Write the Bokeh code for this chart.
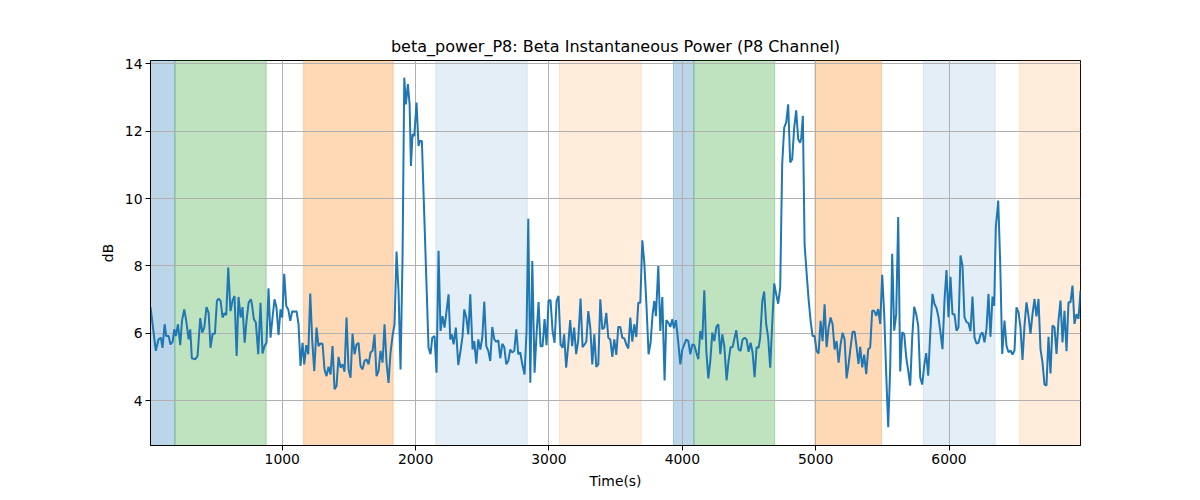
from bokeh.plotting import figure
from bokeh.models import FixedTicker, Range1d, BoxAnnotation, ColumnDataSource
from bokeh.embed import file_html
from bokeh.resources import INLINE

# ---- data ----
time_s = [
    12, 52, 72, 90, 102, 118, 130, 148, 162, 178, 190, 202, 218, 235, 248, 265, 280, 298, 310, 322,
    348, 365, 385, 400, 415, 432, 448, 462, 478, 495, 510, 522, 538, 552, 568, 580, 595, 612, 628, 642,
    658, 672, 688, 702, 718, 732, 748, 765,
    772, 787, 802, 820, 837, 852, 867, 882, 897, 912, 927, 942, 957, 972, 987, 1000, 1015, 1030, 1045, 1060,
    1075, 1090, 1107, 1122, 1137, 1152, 1165, 1180, 1195, 1210, 1225, 1240, 1257, 1272, 1287, 1302, 1317, 1332,
    1347, 1362, 1377, 1392, 1407, 1422, 1437, 1452, 1467, 1482, 1497, 1512,
    1527, 1542, 1557, 1572, 1587, 1602, 1617, 1632, 1647, 1662, 1677, 1692, 1707, 1722, 1737, 1752, 1767, 1782,
    1797, 1812, 1827, 1842, 1857, 1872, 1887, 1902, 1915, 1927, 1942, 1955, 1965, 1977, 1990, 2007, 2022, 2032,
    2047, 2097, 2112, 2125, 2142, 2157, 2172, 2187, 2202, 2217, 2232, 2247,
    2260, 2272, 2285, 2302, 2320, 2337, 2352, 2365, 2380, 2395, 2410, 2427, 2440, 2455, 2470, 2485, 2500, 2515,
    2530, 2545, 2560, 2575, 2590, 2605, 2620, 2635, 2650, 2665, 2680, 2695, 2710, 2725, 2740, 2755, 2770, 2785,
    2800, 2817, 2832, 2845, 2860, 2875, 2892, 2907, 2922, 2937, 2952, 2967, 2982, 2997, 3012,
    3027, 3042, 3057, 3072, 3087, 3102, 3114, 3129, 3144, 3159, 3174, 3189, 3204, 3219, 3237, 3252, 3267, 3280,
    3295, 3310, 3325, 3340, 3355, 3370, 3385, 3400, 3415, 3430, 3445, 3460, 3475, 3490, 3505, 3520, 3535, 3550,
    3565, 3580, 3595, 3610, 3625, 3640, 3655, 3670, 3685, 3700, 3715, 3732, 3747, 3762, 3777,
    3790, 3802, 3820, 3835, 3850, 3867, 3880, 3895, 3910, 3925, 3937, 3952, 3970, 3985, 4000, 4015, 4030, 4045,
    4060, 4075, 4090, 4105, 4120, 4135, 4150, 4165, 4180, 4195, 4210, 4225, 4240, 4255, 4270, 4285, 4300, 4315,
    4332, 4347, 4362, 4377, 4392, 4405, 4422, 4437, 4452, 4467, 4482, 4497, 4512, 4527,
    4542, 4557, 4572, 4584, 4600, 4614, 4629, 4644, 4659, 4674, 4689, 4704, 4719, 4734, 4749, 4764, 4779, 4794,
    4809, 4824, 4839, 4854, 4869, 4884, 4892, 4904, 4917, 4932, 4947, 4962, 4977, 4992, 5007, 5022, 5037, 5052,
    5067, 5082, 5097, 5112, 5127, 5142, 5157, 5172, 5187, 5202, 5217, 5232, 5247, 5262, 5277, 5292, 5307,
    5321, 5334, 5349, 5364, 5379, 5394, 5409, 5424, 5439, 5454, 5469, 5484, 5499, 5514, 5529, 5544, 5559, 5574,
    5589, 5604, 5619, 5634, 5649, 5664, 5679, 5694, 5709, 5724, 5739, 5754, 5769, 5784, 5799, 5814, 5829, 5844,
    5859, 5876, 5891, 5906, 5921, 5936, 5951, 5966, 5981, 5996, 6011, 6026, 6041, 6056, 6071,
    6086, 6101, 6116, 6131, 6146, 6161, 6176, 6191, 6206, 6221, 6236, 6251, 6266, 6281, 6296, 6311, 6326, 6339,
    6351, 6369, 6384, 6399, 6416, 6431, 6446, 6461, 6476, 6491, 6506, 6521, 6536, 6551, 6566, 6581, 6596, 6611,
    6626, 6641, 6656, 6671, 6686, 6701, 6716, 6731, 6746, 6761, 6776, 6791, 6806, 6821, 6836, 6851, 6866, 6881,
    6896, 6911, 6926, 6941, 6956, 6971, 6986,
]

power_db = [
    6.78, 5.48, 5.82, 5.87, 5.57, 6.27, 5.92, 5.92, 5.67, 5.75, 6.12, 5.92, 6.27, 5.65, 6.37, 6.71, 6.37, 5.82, 6.12, 5.26,
    5.23, 5.33, 6.45, 6.02, 6.17, 6.78, 6.61, 5.57, 5.99, 5.99, 6.96, 7.03, 6.96, 6.47, 6.61, 6.54, 7.95, 6.66, 6.98, 7.11,
    5.33, 7.08, 6.47, 6.78, 5.72, 6.37, 6.91, 7.01,
    6.88, 6.42, 6.32, 5.38, 6.91, 5.40, 5.62, 5.72, 7.34, 5.87, 6.47, 7.01, 6.76, 5.95, 6.71, 6.47, 7.77, 6.81, 6.71, 6.37,
    6.66, 6.64, 6.66, 6.27, 5.03, 5.72, 5.08, 5.65, 5.38, 7.18, 5.77, 4.88, 6.17, 5.62, 5.70, 5.69, 4.93, 4.73,
    5.01, 4.78, 5.62, 4.34, 4.44, 5.30, 4.98, 5.08, 4.86, 6.47, 4.93, 4.68,
    5.99, 5.38, 5.67, 5.72, 5.03, 4.93, 5.18, 5.23, 5.08, 5.43, 5.48, 5.97, 4.73, 4.88, 5.48, 5.13, 6.27, 5.13,
    4.53, 5.43, 5.92, 6.27, 8.43, 7.26, 4.93, 8.25, 13.59, 12.80, 13.40, 12.80, 10.97, 11.91, 11.86, 12.85, 11.56, 11.71,
    11.71, 5.57, 5.38, 5.87, 5.92, 4.83, 8.45, 6.07, 6.51, 6.17, 6.66, 7.16,
    5.82, 5.97, 5.67, 6.17, 5.06, 5.48, 5.92, 6.71, 6.47, 5.97, 7.16, 5.52, 5.77, 5.10, 5.82, 5.52, 5.87, 6.94,
    5.62, 5.48, 5.18, 6.19, 5.82, 5.75, 5.79, 5.26, 5.69, 5.59, 5.08, 5.18, 5.52, 5.43, 5.48, 6.12, 5.38, 5.43,
    5.08, 4.78, 6.07, 9.40, 4.53, 8.15, 4.83, 5.97, 6.93, 5.62, 5.62, 6.42, 5.65, 6.98, 6.98,
    6.07, 5.72, 6.96, 7.11, 5.67, 5.57, 5.97, 4.98, 5.62, 6.39, 5.62, 6.17, 5.38, 5.77, 7.03, 5.59, 5.67, 5.75,
    6.66, 6.17, 5.08, 5.97, 5.00, 5.08, 7.01, 6.12, 6.17, 6.61, 5.87, 5.82, 5.30, 5.82, 5.36, 6.19, 6.19, 5.87,
    5.85, 5.67, 5.55, 6.47, 5.75, 6.27, 5.89, 6.91, 6.91, 8.76, 8.10, 6.76, 5.38, 5.72, 6.56,
    6.96, 6.51, 8.00, 6.07, 7.08, 4.60, 6.39, 6.32, 6.19, 6.42, 6.15, 6.39, 5.72, 5.08, 5.52, 5.67, 5.82, 5.77,
    5.38, 5.67, 5.65, 5.43, 5.23, 6.07, 5.82, 7.28, 5.48, 4.66, 5.18, 6.02, 5.77, 6.19, 6.27, 5.38, 5.97, 5.62,
    4.60, 5.18, 5.59, 5.59, 5.87, 6.09, 5.52, 5.48, 5.82, 5.87, 5.82, 5.45, 5.72, 5.43,
    4.70, 5.59, 5.57, 5.87, 6.96, 7.24, 6.27, 5.87, 4.98, 6.27, 7.48, 7.16, 6.88, 7.36, 11.02, 12.11, 12.26, 12.80,
    11.07, 11.17, 12.11, 12.62, 11.76, 11.66, 11.81, 12.46, 8.64, 7.80, 7.01, 6.37, 5.92, 5.92, 5.48, 5.40, 6.37, 5.77,
    6.86, 5.59, 6.17, 6.47, 6.27, 5.52, 5.77, 5.13, 5.67, 6.02, 5.82, 4.66, 5.08, 5.59, 6.05, 6.05, 5.59,
    5.09, 5.60, 4.99, 5.37, 4.79, 5.53, 5.58, 6.67, 6.67, 6.52, 6.72, 6.28, 7.74, 6.57, 4.79, 3.21, 4.99, 8.36,
    6.08, 6.57, 9.45, 4.87, 6.03, 5.98, 5.29, 4.89, 4.45, 5.88, 6.79, 6.57, 6.23, 4.69, 4.48, 5.04, 5.41, 4.74,
    5.98, 7.17, 6.87, 6.75, 6.48, 6.03, 5.53, 6.97, 7.88, 6.48, 7.68, 6.57, 6.57, 6.08, 6.18,
    8.31, 8.01, 6.48, 6.33, 6.30, 6.06, 7.09, 5.88, 5.70, 5.72, 5.96, 6.03, 5.73, 6.13, 7.17, 5.90, 7.09, 6.82,
    9.15, 9.94, 8.06, 5.39, 6.38, 5.63, 5.44, 5.49, 5.37, 5.49, 6.77, 6.62, 6.18, 5.21, 6.23, 6.92, 6.52, 5.98,
    6.57, 7.02, 6.50, 7.02, 5.53, 5.14, 4.48, 4.45, 5.90, 4.81, 6.23, 6.18, 5.39, 6.38, 6.97, 5.73, 6.67, 5.47,
    6.92, 6.92, 7.42, 6.28, 6.57, 6.43, 7.27,
]

span_start = [12, 195, 1160, 2152, 3079, 3934, 4087, 4994, 5809, 6529]
span_end = [195, 880, 1832, 2837, 3692, 4087, 4692, 5494, 6346, 6986]
span_color = ["#1f77b4", "#2ca02c", "#ff7f0e", "#1f77b4", "#ff7f0e",
              "#1f77b4", "#2ca02c", "#ff7f0e", "#1f77b4", "#ff7f0e"]
span_alpha = [0.3, 0.3, 0.3, 0.12, 0.15, 0.3, 0.3, 0.3, 0.12, 0.15]

x_ticks = [1000, 2000, 3000, 4000, 5000, 6000]
y_ticks = [4, 6, 8, 10, 12, 14]

FONT = "DejaVu Sans"

p = figure(
    frame_width=930, frame_height=385,
    min_border_left=150, min_border_right=112, min_border_top=60, min_border_bottom=47,
    x_range=Range1d(min(time_s), max(time_s)),
    y_range=Range1d(2.67, 14.1),
    output_backend="svg", toolbar_location=None,
    title="beta_power_P8: Beta Instantaneous Power (P8 Channel)",
)

for s, e, c, a in zip(span_start, span_end, span_color, span_alpha):
    box = BoxAnnotation(left=s, right=e, fill_color=c, fill_alpha=a,
                        line_color=c, line_alpha=a, line_width=1, level="image")
    p.add_layout(box)

src = ColumnDataSource(dict(t=time_s, v=power_db))
p.line("t", "v", source=src, line_color="#1f77b4", line_width=2)

p.title.align = "center"
p.title.text_font = FONT
p.title.text_font_size = "16px"
p.title.text_font_style = "normal"
p.title.text_color = "black"

p.xaxis.ticker = FixedTicker(ticks=x_ticks)
p.yaxis.ticker = FixedTicker(ticks=y_ticks)
p.xaxis.axis_label = "Time(s)"
p.yaxis.axis_label = "dB"
for ax in (p.xaxis, p.yaxis):
    ax.axis_label_text_font = FONT
    ax.axis_label_text_font_size = "13.9px"
    ax.axis_label_text_font_style = "normal"
    ax.axis_label_text_color = "black"
    ax.major_label_text_font = FONT
    ax.major_label_text_font_size = "13.9px"
    ax.major_label_text_color = "black"
    ax.axis_line_color = "black"
    ax.major_tick_line_color = "black"
    ax.major_tick_out = 5
    ax.major_tick_in = 0
    ax.minor_tick_line_color = None
    ax.major_label_standoff = 3
p.xaxis.axis_label_standoff = 6
p.yaxis.axis_label_standoff = 6

p.grid.grid_line_color = "#b0b0b0"
p.grid.grid_line_width = 1
p.xgrid.ticker = FixedTicker(ticks=x_ticks)
p.ygrid.ticker = FixedTicker(ticks=y_ticks)

p.outline_line_color = "black"
p.outline_line_width = 1
p.outline_line_alpha = 1
p.background_fill_color = "white"
p.border_fill_color = "white"

open("out.html", "w").write(file_html(p, INLINE))
